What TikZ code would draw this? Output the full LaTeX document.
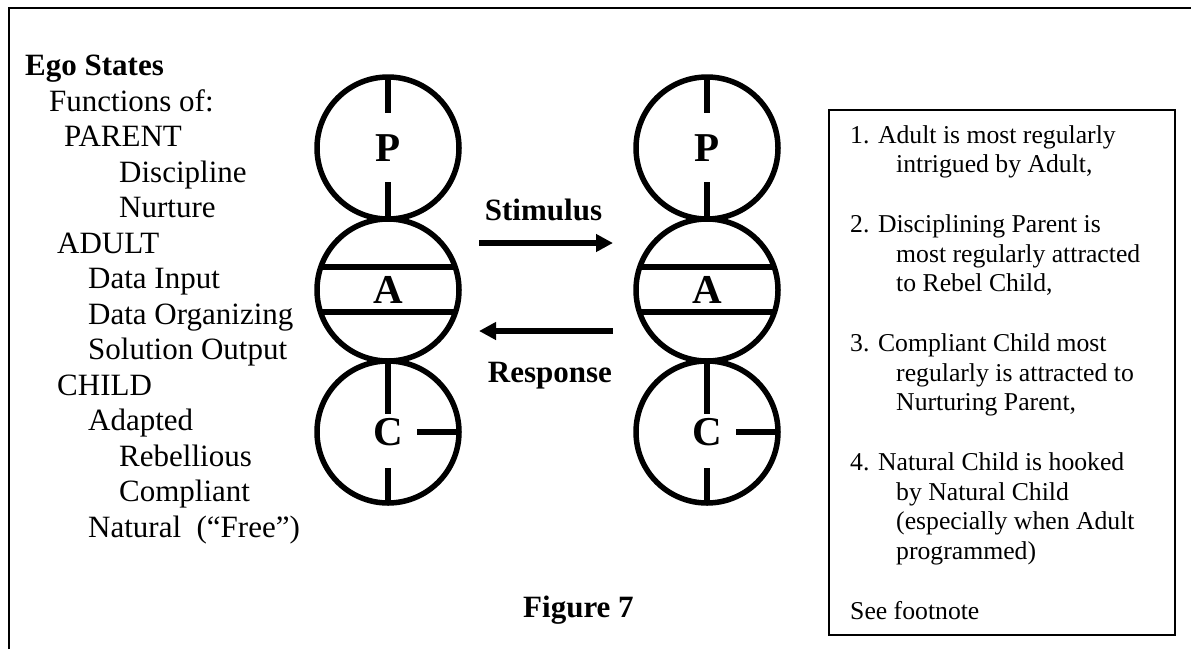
\documentclass[tikz,border=0pt]{standalone}
\usepackage{fontspec}
\setmainfont{Liberation Serif}
\usetikzlibrary{arrows.meta,positioning}

\begin{document}
\begin{tikzpicture}[
                        x=1pt,
                        y=-1pt,
                        >={Triangle[length=17pt,width=17pt]},
                        node distance=142pt,
                        line cap=butt
                    ]
                    \tikzstyle{ego}=[circle,draw=black,line width=5.5pt,minimum size=142pt,
                                     inner sep=0pt,outer sep=0pt,font=\fontsize{41}{41}\selectfont\bfseries]
                    \tikzstyle{tick}=[line width=5.5pt]
                    \tikzstyle{flow}=[->,line width=6pt]
                    \tikzstyle{lbl}=[inner sep=0pt,font=\fontsize{31}{31}\selectfont\bfseries]

                    \useasboundingbox (0,0) rectangle (1191,649);
                    \draw[line width=2pt] (9,649) -- (9,7.5) -- (1191,7.5);

                    % left list (base = last line)
                    \node[anchor=base west,align=left,inner sep=0pt,
                          font=\fontsize{31}{35.5}\selectfont] (states) at (25,537)
                        {\textbf{Ego States}\\
                         \hspace*{24pt}Functions of:\\
                         \hspace*{39pt}PARENT\\
                         \hspace*{94pt}Discipline\\
                         \hspace*{94pt}Nurture\\
                         \hspace*{32pt}ADULT\\
                         \hspace*{63pt}Data Input\\
                         \hspace*{63pt}Data Organizing\\
                         \hspace*{63pt}Solution Output\\
                         \hspace*{32pt}CHILD\\
                         \hspace*{63pt}Adapted\\
                         \hspace*{94pt}Rebellious\\
                         \hspace*{94pt}Compliant\\
                         \hspace*{63pt}Natural\ \ (``Free'')};

                    % ego states, first person
                    \node[ego] (P1) at (388,148) {P};
                    \node[ego] (A1) [below of=P1] {A};
                    \node[ego] (C1) [below of=A1] {C};

                    % ego states, second person
                    \node[ego] (P2) at (707,148) {P};
                    \node[ego] (A2) [below of=P2] {A};
                    \node[ego] (C2) [below of=A2] {C};

                    \draw[tick] (P1.north) -- ++(0,36);
                    \draw[tick] (P1.south) -- ++(0,-37);
                    \draw[tick] (A1.161) -- (A1.19);
                    \draw[tick] (A1.198) -- (A1.342);
                    \draw[tick] (C1.north) -- ++(0,53);
                    \draw[tick] (C1.south) -- ++(0,-35);
                    \draw[tick] (C1.east) -- ++(-42,0);

                    \draw[tick] (P2.north) -- ++(0,36);
                    \draw[tick] (P2.south) -- ++(0,-37);
                    \draw[tick] (A2.161) -- (A2.19);
                    \draw[tick] (A2.198) -- (A2.342);
                    \draw[tick] (C2.north) -- ++(0,53);
                    \draw[tick] (C2.south) -- ++(0,-35);
                    \draw[tick] (C2.east) -- ++(-42,0);

                    % transactions
                    \coordinate (stimL) at (479,243);
                    \coordinate (stimR) at (613,243);
                    \coordinate (respL) at (479,331);
                    \coordinate (respR) at (613,331);
                    \draw[flow] (stimL) -- (stimR);
                    \draw[flow] (respR) -- (respL);
                    \node[lbl,anchor=base] (stim) at (543.5,220) {Stimulus};
                    \node[lbl,anchor=base] (resp) at (550,382) {Response};
                    \node[lbl,anchor=base west] (fig) at (523,617) {Figure 7};

                    % notes (base = last line)
                    \draw[line width=1.8pt] (829,110) rectangle (1175,635);
                    \node[anchor=base west,align=left,inner sep=0pt,
                          font=\fontsize{25.7}{29.75}\selectfont] (notes) at (850,619)
                        {1. Adult is most regularly\\
                         \hspace*{46pt}intrigued by Adult,\\[29.75pt]
                         2. Disciplining Parent is\\
                         \hspace*{46pt}most regularly attracted\\
                         \hspace*{46pt}to Rebel Child,\\[29.75pt]
                         3. Compliant Child most\\
                         \hspace*{46pt}regularly is attracted to\\
                         \hspace*{46pt}Nurturing Parent,\\[29.75pt]
                         4. Natural Child is hooked\\
                         \hspace*{46pt}by Natural Child\\
                         \hspace*{46pt}(especially when Adult\\
                         \hspace*{46pt}programmed)\\[29.75pt]
                         See footnote};

                \end{tikzpicture}
\end{document}
